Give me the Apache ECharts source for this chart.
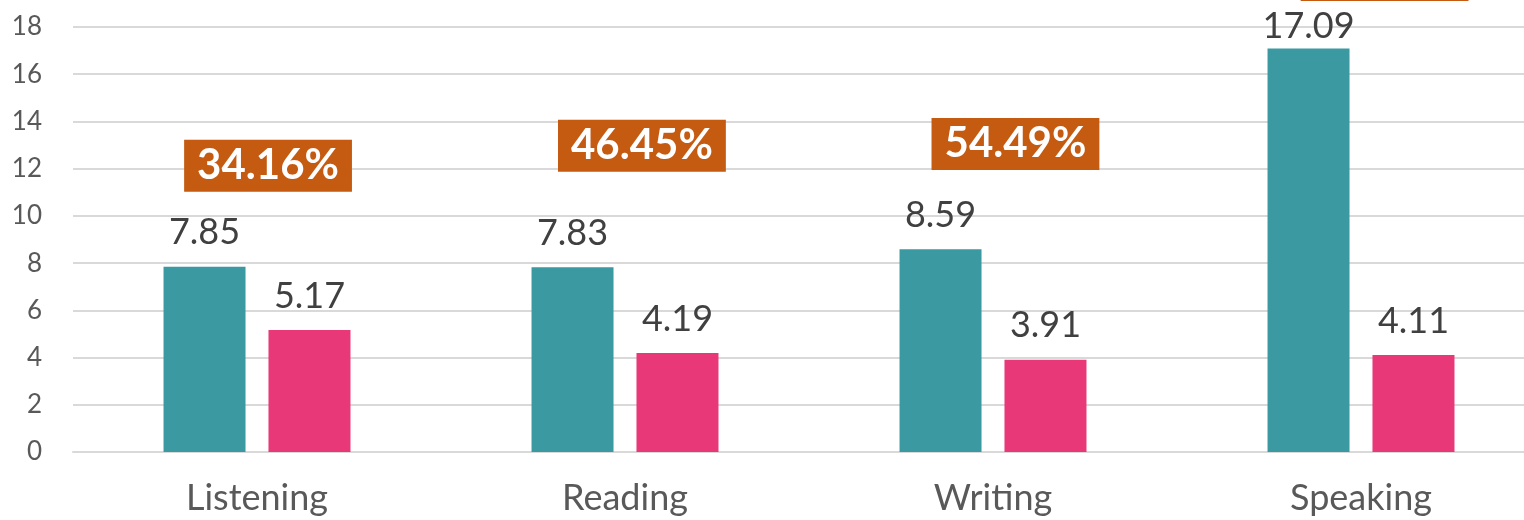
<!DOCTYPE html>
<html>
<head>
<meta charset="utf-8">
<script src="https://cdn.jsdelivr.net/npm/echarts@6/dist/echarts.min.js"></script>
<style>
  html, body { margin: 0; padding: 0; background: #fff; }
  #main { width: 1524px; height: 520px; }
</style>
</head>
<body>
<div id="main"></div>
<script>
const skills = ['Listening', 'Reading', 'Writing', 'Speaking']
const before = [7.85, 7.83, 8.59, 17.09]
const after = [5.17, 4.19, 3.91, 4.11]
const pctText = ['34.16%', '46.45%', '54.49%', '75.95%']
// where the percentage boxes sit, in axis units
const pctX = [0.03, 0.046, 0.061, 0.064]
const pctY = [12.12, 12.97, 13.05, 20.2]

const chart = echarts.init(document.getElementById('main'))

const valueLabel = {
  show: true,
  position: 'top',
  distance: 16,
  fontFamily: 'Lato',
  fontSize: 36,
  color: '#404040'
}

let option = {
  animation: false,
  grid: { left: 73, top: 27, width: 1472, bottom: 68, outerBoundsMode: 'none', containLabel: false },
  xAxis: [
    {
      type: 'category',
      data: skills,
      axisTick: { show: false },
      axisLine: { lineStyle: { color: '#d9d9d9', width: 2 } },
      axisLabel: { fontFamily: 'Lato', fontSize: 36, color: '#595959', margin: 28 }
    },
    {
      type: 'value',
      min: -0.5,
      max: 3.5,
      show: false
    }
  ],
  yAxis: {
    type: 'value',
    min: 0,
    max: 18,
    interval: 2,
    axisLine: { show: false },
    axisTick: { show: false },
    splitLine: { lineStyle: { color: '#d9d9d9', width: 2 } },
    axisLabel: { fontFamily: 'Lato', fontSize: 26, color: '#595959', margin: 31 }
  },
  series: [
    {
      type: 'bar',
      data: before.map((v, i) => ({
        value: v,
        label: i === 3 ? { distance: 4 } : undefined
      })),
      barWidth: 82,
      barGap: '28%',
      itemStyle: { color: '#3a99a1' },
      label: valueLabel
    },
    {
      type: 'bar',
      data: after,
      barWidth: 82,
      itemStyle: { color: '#e83877' },
      label: valueLabel
    },
    {
      type: 'scatter',
      xAxisIndex: 1,
      clip: false,
      symbolSize: 0,
      itemStyle: { opacity: 1 },
      data: pctY.map((y, i) => [i + pctX[i], y]),
      label: {
        show: true,
        position: 'inside',
        formatter: p => pctText[p.dataIndex],
        fontFamily: 'Lato',
        fontWeight: 'bold',
        fontSize: 42,
        lineHeight: 42,
        color: '#fff',
        opacity: 1,
        backgroundColor: '#c55a11',
        padding: [5, 13, 5, 13]
      }
    }
  ]
}

option && chart.setOption(option)
</script>
</body>
</html>
